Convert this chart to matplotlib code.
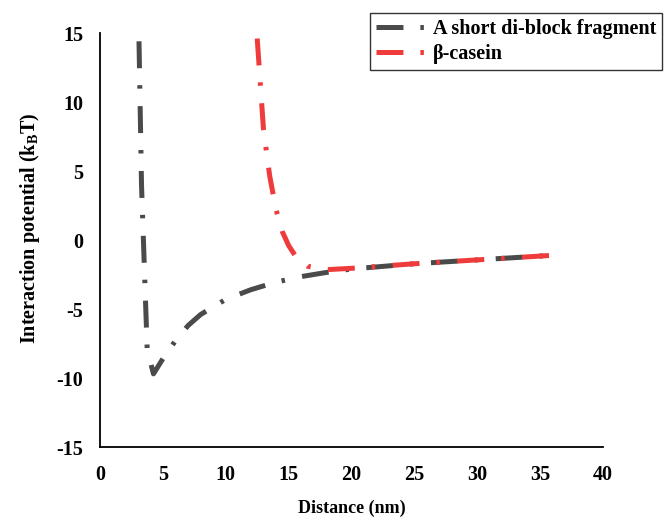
import numpy as np
import matplotlib
matplotlib.use('Agg')
import matplotlib.pyplot as plt

plt.rcParams['font.family'] = ['Liberation Serif', 'DejaVu Serif']
plt.rcParams['font.weight'] = 'bold'
plt.rcParams['axes.labelweight'] = 'bold'
plt.rcParams['axes.unicode_minus'] = False
plt.rcParams['mathtext.fontset'] = 'custom'
plt.rcParams['mathtext.bf'] = 'Liberation Serif:bold'
plt.rcParams['mathtext.rm'] = 'Liberation Serif:bold'
plt.rcParams['mathtext.default'] = 'bf'
plt.rcParams['lines.scale_dashes'] = False

# values
x_frag = [3.1, 3.3, 3.75, 4.25, 5.0, 6.0, 7.0, 8.0, 10.0, 12.0, 14.0, 16.0, 18.0, 20.0, 25.0, 30.0, 35.8]
y_frag = [14.4, 4.0, -7.9, -9.7, -8.6, -7.3, -6.2, -5.4, -4.3, -3.6, -3.05, -2.65, -2.35, -2.1, -1.72, -1.44, -1.12]

x_cas = [12.5, 13.0, 13.5, 14.0, 14.5, 15.0, 15.5, 16.5, 18.0, 20.0, 25.0, 30.0, 35.8]
y_cas = [14.6, 8.0, 4.6, 2.2, 0.6, -0.4, -1.1, -1.9, -2.15, -2.05, -1.72, -1.44, -1.12]

labels = ['A short di-block fragment', '\u03b2-casein']
colors = ['#4a4a4a', '#ef3b3b']

x_ticks = np.arange(0, 41, 5)
y_ticks = np.arange(-15, 16, 5)

fig = plt.figure(figsize=(6.65, 5.19), dpi=100)
ax = fig.add_axes([0.1504, 0.1387, 0.7564, 0.7977])

# long dash, gap, short dot, gap (in points)
dash = (0, (19.4, 12.2, 2.5, 12.6))
ax.plot(x_frag, y_frag, color=colors[0], lw=3.6, linestyle=dash, label=labels[0])
ax.plot(x_cas, y_cas, color=colors[1], lw=3.6, linestyle=dash, label=labels[1])

ax.set_xlim(0, 40)
ax.set_ylim(-15, 15)
ax.set_xticks(x_ticks)
ax.set_yticks(y_ticks)
ax.tick_params(length=0, labelsize=14.5)
ax.tick_params(axis='x', pad=13)
ax.tick_params(axis='y', pad=12)
for s in ['top', 'right']:
    ax.spines[s].set_visible(False)
for s in ['left', 'bottom']:
    ax.spines[s].set_linewidth(1.3)

ax.set_xlabel('Distance (nm)', fontsize=13, fontweight='bold')
ax.set_ylabel(r'Interaction potential (k$_B$T)', fontsize=14.5, fontweight='bold')
ax.xaxis.set_label_coords(0.5, -0.128)
ax.yaxis.set_label_coords(-0.115, 0.528)

leg = ax.legend(loc='upper right', bbox_to_anchor=(662 / 665, 1 - 13 / 519),
                bbox_transform=fig.transFigure, fontsize=14.5, frameon=True,
                fancybox=False, edgecolor='black', handlelength=2.4,
                handletextpad=0.4, borderpad=0.3, labelspacing=0.25,
                borderaxespad=0)
leg.get_frame().set_linewidth(1.0)

fig.savefig('out.png', dpi=100)
